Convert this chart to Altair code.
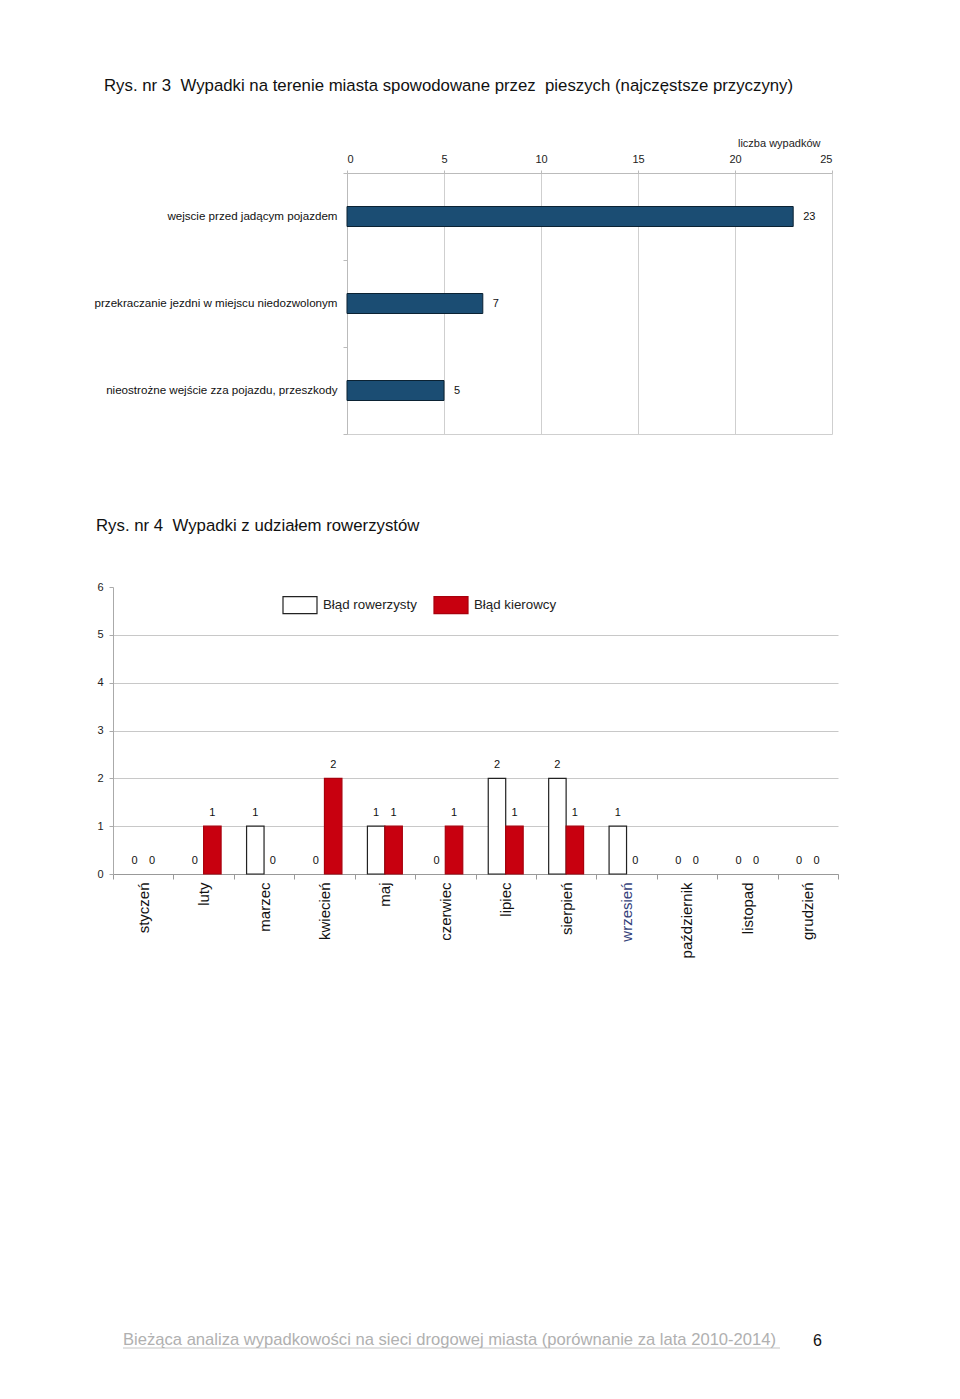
import altair as alt
import pandas as pd

FONT = "Liberation Sans"

# ---- data: Rys. nr 3 ----
causes = [
    "wejscie przed jadącym pojazdem",
    "przekraczanie jezdni w miejscu niedozwolonym",
    "nieostrożne wejście zza pojazdu, przeszkody",
]
cause_counts = [23, 7, 5]
x1_ticks = [0, 5, 10, 15, 20, 25]

# ---- data: Rys. nr 4 ----
months = ["styczeń", "luty", "marzec", "kwiecień", "maj", "czerwiec",
          "lipiec", "sierpień", "wrzesień", "październik", "listopad", "grudzień"]
cyclist_fault = [0, 0, 1, 0, 1, 0, 2, 2, 1, 0, 0, 0]
driver_fault = [0, 1, 0, 2, 1, 1, 1, 1, 0, 0, 0, 0]
series_names = ["Błąd rowerzysty", "Błąd kierowcy"]
y2_ticks = [0, 1, 2, 3, 4, 5, 6]

title1 = "Rys. nr 3 \u00a0Wypadki na terenie miasta spowodowane przez \u00a0pieszych (najczęstsze przyczyny)"
title2 = "Rys. nr 4 \u00a0Wypadki z udziałem rowerzystów"
footer_text = "Bieżąca analiza wypadkowości na sieci drogowej miasta (porównanie za lata 2010-2014)"
page_number = "6"

df1 = pd.DataFrame({"cause": causes, "count": cause_counts})
rows = []
for m, a, b in zip(months, cyclist_fault, driver_fault):
    rows.append({"month": m, "series": series_names[0], "value": a})
    rows.append({"month": m, "series": series_names[1], "value": b})
df2 = pd.DataFrame(rows)

# layout constants (pixels)
P1_LEFT = 234      # plot-1 left edge, relative to plot-2 left edge
P1_W = 485
P1_H = 261
GAP = 153
P2_H = 287

# ---------------- chart 1 ----------------
base1 = alt.Chart(df1)
x_scale1 = alt.Scale(domain=[0, 25], nice=False, range=[P1_LEFT, P1_LEFT + P1_W])
y1 = alt.Y("cause:N", sort=causes, title=None,
           scale=alt.Scale(paddingInner=0, paddingOuter=0),
           axis=alt.Axis(tickBand="extent", labelFont=FONT, labelFontSize=11.6,
                         labelColor="#111", labelPadding=6, tickSize=4,
                         domainColor="#bbb", tickColor="#bbb", grid=False,
                         labelLimit=400, offset=-P1_LEFT))
x1 = alt.X("count:Q", scale=x_scale1,
           axis=alt.Axis(orient="top", values=x1_ticks, title="liczba wypadków",
                         titleX=P1_LEFT + 473, titleY=-27, titleAlign="right",
                         titleBaseline="alphabetic", titleFontWeight="normal",
                         titleFontSize=11, titleFont=FONT, titleColor="#222",
                         gridColor="#cfcfcf", domainColor="#bbb", tickColor="#bbb",
                         tickSize=3, labelFontSize=11, labelFont=FONT,
                         labelColor="#222", labelPadding=6))
x1_bottom = alt.X("count:Q", scale=x_scale1,
                  axis=alt.Axis(orient="bottom", values=x1_ticks, labels=False,
                                ticks=False, grid=False, title=None,
                                domainColor="#cfcfcf"))
bars1 = base1.mark_bar(size=20, color="#1b4d73", stroke="#0b2233",
                       strokeWidth=1).encode(x=x1, y=y1)
text1 = base1.mark_text(align="left", dx=10, fontSize=11, font=FONT,
                        color="#111").encode(
    x=x1_bottom, y=alt.Y("cause:N", sort=causes), text="count:Q")
chart1 = alt.layer(bars1, text1).resolve_axis(x="independent").properties(
    width=P1_LEFT + P1_W, height=P1_H,
    title=alt.TitleParams(title1, anchor="start", frame="group", dx=-9,
                          offset=42, fontSize=16.8, fontWeight="normal",
                          font=FONT, color="#111"))

# ---------------- chart 2 ----------------
base2 = alt.Chart(df2)
x2 = alt.X("month:N", sort=months, title=None,
           scale=alt.Scale(domain=months, paddingInner=0, paddingOuter=0),
           axis=alt.Axis(labelAngle=-90, tickBand="extent", labelFontSize=15,
                         labelFont=FONT, labelPadding=3,
                         labelColor=alt.ExprRef("datum.label == 'wrzesień' ? '#34427a' : '#111'"),
                         tickSize=5, tickColor="#999", domainColor="#999"))
xo = alt.XOffset("series:N", sort=series_names,
                 scale=alt.Scale(domain=series_names, paddingInner=0, paddingOuter=0.73))
y2 = alt.Y("value:Q", scale=alt.Scale(domain=[0, 6], nice=False), title=None,
           axis=alt.Axis(values=y2_ticks, labelFontSize=11, labelFont=FONT,
                         labelColor="#222", labelPadding=6, tickSize=4,
                         tickColor="#aaa", domainColor="#aaa", gridColor="#c8c8c8",
                         gridOpacity=alt.ExprRef("datum.value >= 6 ? 0 : 1")))
color2 = alt.Color("series:N", sort=series_names,
                   scale=alt.Scale(domain=series_names, range=["#ffffff", "#c8000f"]),
                   legend=alt.Legend(orient="none", legendX=169,
                                     legendY=P1_H + GAP,
                                     direction="horizontal", title=None,
                                     symbolType="M-1,-0.5H1V0.5H-1Z", symbolSize=1156,
                                     symbolStrokeColor="#222", symbolStrokeWidth=1.2,
                                     symbolOpacity=1, labelFontSize=13.3, labelOffset=5,
                                     columnPadding=14, labelFont=FONT,
                                     labelColor="#222"))
stroke2 = alt.Stroke("series:N", sort=series_names,
                     scale=alt.Scale(domain=series_names, range=["#222222", "#a8000c"]),
                     legend=None)
bars2 = base2.mark_bar(strokeWidth=1.2, opacity=1).encode(
    x=x2, xOffset=xo, y=y2, color=color2, stroke=stroke2
).transform_filter("datum.value > 0")
text2 = base2.mark_text(baseline="alphabetic", dy=-10, fontSize=11, font=FONT,
                        color="#111").encode(
    x=alt.X("month:N", sort=months), xOffset=xo, y=alt.Y("value:Q"),
    text="value:Q")
chart2 = (bars2 + text2).properties(
    width=725, height=P2_H,
    title=alt.TitleParams(title2, anchor="start", frame="group", dx=-17,
                          offset=46, fontSize=16.8, fontWeight="normal",
                          font=FONT, color="#111"))

# ---------------- footer ----------------
fdf = pd.DataFrame({"footer": [footer_text], "page": [page_number]})
fbase = alt.Chart(fdf)
ftext = fbase.mark_text(align="left", baseline="alphabetic", fontSize=16.6,
                        font=FONT, color="#b0b0b0").encode(
    x=alt.value(10), y=alt.value(318), text="footer:N")
fline = fbase.mark_rule(color="#c4c4c4", strokeWidth=1).encode(
    x=alt.value(10), x2=alt.value(667), y=alt.value(321))
fpage = fbase.mark_text(align="left", baseline="alphabetic", fontSize=16,
                        font=FONT, color="#111").encode(
    x=alt.value(700), y=alt.value(319), text="page:N")
footer = (fline + ftext + fpage).properties(width=725, height=340)

chart = alt.vconcat(chart1, chart2, footer, spacing=GAP, bounds="flush").configure(
    font=FONT,
    padding={"left": 93, "top": 77, "right": 20, "bottom": 10},
    background="white",
).configure_view(stroke="transparent")

chart.save("out.html", embed_options={"renderer": "svg", "actions": False})
